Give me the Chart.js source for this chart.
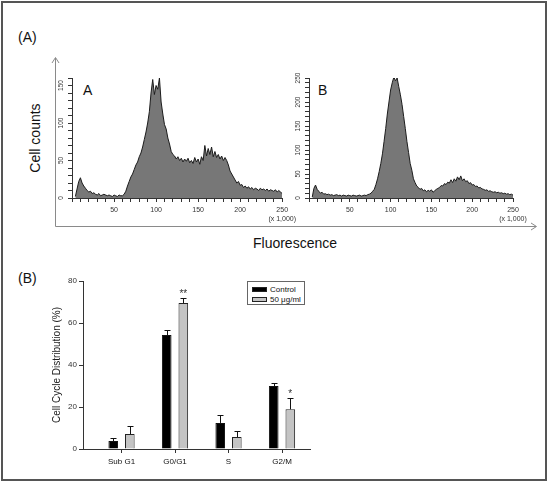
<!DOCTYPE html>
<html>
<head>
<meta charset="utf-8">
<script src="https://cdn.jsdelivr.net/npm/chart.js@4.4.0/dist/chart.umd.min.js"></script>
<style>
body{margin:0;background:#fff;font-family:"Liberation Sans",Arial,sans-serif;}
#page{position:relative;width:550px;height:485px;overflow:hidden;background:#fff;}
#frame{position:absolute;left:1px;top:1px;width:546px;height:480px;border:2px solid #555;box-sizing:border-box;}
canvas{position:absolute;}
.lbl{position:absolute;font-size:14px;line-height:14px;color:#111;white-space:nowrap;}
.rot{transform:translate(-50%,-50%) rotate(-90deg);}
.ctr{transform:translate(-50%,-50%);}
#legend{position:absolute;left:247px;top:281px;width:58px;height:24px;border:1px solid #666;box-sizing:border-box;background:#fff;}
#legend .sw{position:absolute;left:4px;width:15px;height:5px;box-sizing:border-box;border:1px solid #222;}
#legend .lt{position:absolute;left:22px;font-size:8px;line-height:9px;color:#111;white-space:nowrap;}
</style>
</head>
<body>
<div id="page">
  <div id="frame"></div>
  <svg width="550" height="485" style="position:absolute;left:0;top:0">
    <path d="M55.5 226.5 V58 M52 63 L55.5 57.5 L59 63 M55.5 226.5 H536 M531 223 L536.5 226.5 L531 230" stroke="#8a8a8a" fill="none" stroke-width="1"/>
  </svg>
  <div class="lbl" style="left:18px;top:30px">(A)</div>
  <div class="lbl rot" style="left:35px;top:138px">Cell counts</div>
  <div class="lbl ctr" style="left:295px;top:243px">Fluorescence</div>
  <div class="lbl" style="left:83px;top:83px">A</div>
  <div class="lbl" style="left:318px;top:83px">B</div>
  <div class="lbl" style="left:18px;top:271px">(B)</div>
  <canvas id="histA" width="300" height="240" style="left:0;top:0"></canvas>
  <canvas id="histB" width="265" height="240" style="left:280px;top:0"></canvas>
  <canvas id="bars" width="330" height="230" style="left:0;top:250px"></canvas>
  <div id="legend"></div>
</div>
<script>
// fluorescence channels (x 1,000), one bin every 2 units
const fluorBins = [];
for (let ch = 4; ch <= 250; ch += 2) fluorBins.push(ch);

// panel A: untreated cells
const countsA = [
  2, 12, 22, 27, 20, 16, 13, 10, 8, 9,
  6, 7, 5, 4, 6, 3, 4, 5, 4, 3,
  4, 3, 2, 4, 3, 2, 4, 3, 3, 5,
  9, 16, 22, 28, 32, 38, 44, 48, 55, 60,
  68, 78, 88, 100, 115, 140, 158, 138, 150, 145,
  160, 128, 112, 98, 92, 80, 72, 62, 58, 56,
  52, 55, 50, 53, 48, 52, 49, 53, 47, 50,
  46, 54, 48, 52, 45, 55, 50, 70, 56, 66,
  58, 68, 55, 62, 54, 58, 52, 56, 50, 54,
  50, 44, 36, 32, 28, 24, 20, 22, 17, 18,
  14, 16, 13, 15, 12, 14, 11, 13, 12, 10,
  13, 11, 12, 10, 12, 9, 11, 10, 9, 11,
  8, 10, 8, 6
];
// panel B: 50 ug/ml
const countsB = [
  2, 20, 27, 18, 14, 10, 12, 8, 9, 7,
  8, 6, 7, 5, 6, 7, 5, 6, 4, 6,
  5, 4, 6, 5, 4, 6, 5, 4, 5, 6,
  4, 5, 6, 5, 7, 8, 10, 14, 18, 28,
  40, 55, 72, 92, 118, 145, 175, 200, 225, 240,
  252, 244, 250, 232, 215, 195, 170, 145, 118, 95,
  72, 58, 40, 32, 25, 22, 18, 20, 15, 17,
  13, 16, 14, 17, 12, 15, 18, 20, 22, 26,
  25, 30, 28, 33, 31, 38, 32, 40, 35, 44,
  38, 46, 36, 40, 34, 36, 30, 32, 27, 28,
  24, 25, 21, 22, 19, 18, 16, 17, 14, 15,
  13, 12, 13, 11, 12, 10, 11, 9, 10, 8,
  9, 7, 8, 6
];

// panel (B) bar chart
const phases = ["Sub G1", "G0/G1", "S", "G2/M"];
const seriesNames = ["Control", "50 μg/ml"];
const controlPct = [3.8, 54.3, 12.4, 30.0];
const controlErr = [1.6, 2.4, 3.9, 1.6];
const treatedPct = [7.1, 69.5, 5.7, 18.9];
const treatedErr = [3.8, 2.4, 3.0, 5.4];
const sigMarks = ["", "**", "", "*"];

const FONT = '"Liberation Sans", Arial, sans-serif';
Chart.defaults.font.family = FONT;
Chart.defaults.color = "#222";

function makeHist(id, counts, yMax, pad, yWidth){
  return new Chart(document.getElementById(id), {
    type: "line",
    data: { labels: fluorBins, datasets: [{ data: counts, fill: "origin", backgroundColor: "#777777",
      borderColor: "#1c1c1c", borderWidth: 1, pointRadius: 0, tension: 0 }] },
    options: {
      responsive: false, animation: false,
      layout: { padding: pad },
      plugins: { legend: { display: false }, tooltip: { enabled: false } },
      scales: {
        x: { type: "linear", min: 0, max: 250, afterFit: s => { s.height = 30; },
          ticks: { stepSize: 10, maxTicksLimit: 100, autoSkip: false, maxRotation: 0, padding: 4,
            font: { size: 7 }, color: "#333",
            callback: v => v === 250 ? ["250", "(x 1,000)"] : (v % 50 === 0 && v > 0 ? String(v) : "") },
          grid: { drawOnChartArea: false, tickLength: 4, color: "#333" },
          border: { color: "#333" } },
        y: { min: 0, max: yMax, afterFit: s => { s.width = yWidth; },
          ticks: { stepSize: 10, maxTicksLimit: 100, autoSkip: false, minRotation: 90, maxRotation: 90,
            crossAlign: "center", padding: 1, font: { size: 6.5 }, color: "#333",
            callback: v => v % 50 === 0 ? String(v) : "" },
          grid: { drawOnChartArea: false, tickLength: 4, color: "#333" },
          border: { color: "#333" } }
      }
    }
  });
}

makeHist("histA", countsA, 160, { left: 42, right: 17, top: 78, bottom: 12 }, 30);
makeHist("histB", countsB, 250, { left: 4, right: 32, top: 78, bottom: 12 }, 25);

const errorBars = {
  id: "errorBars",
  afterDatasetsDraw(chart){
    const { ctx, scales: { y } } = chart;
    ctx.save();
    ctx.strokeStyle = "#111"; ctx.lineWidth = 1;
    chart.data.datasets.forEach((ds, di) => {
      chart.getDatasetMeta(di).data.forEach((bar, i) => {
        const top = Math.round(y.getPixelForValue(ds.data[i].y + ds.errors[i])) + 0.5;
        const x = Math.round(bar.x) + 0.5;
        ctx.beginPath();
        ctx.moveTo(x, bar.y); ctx.lineTo(x, top);
        ctx.moveTo(x - 3, top); ctx.lineTo(x + 3, top);
        ctx.stroke();
      });
    });
    ctx.fillStyle = "#333"; ctx.font = "10px " + FONT;
    ctx.textAlign = "center"; ctx.textBaseline = "bottom";
    chart.getDatasetMeta(1).data.forEach((bar, i) => {
      if (!sigMarks[i]) return;
      ctx.fillText(sigMarks[i], bar.x, y.getPixelForValue(treatedPct[i] + treatedErr[i]) + 1);
    });
    ctx.restore();
  }
};

const barColors = ["#000000", "#c4c4c4"];
new Chart(document.getElementById("bars"), {
  type: "bar",
  data: { datasets: [
    { label: seriesNames[0], data: phases.map((p, i) => ({ x: i + 1, y: controlPct[i] })), errors: controlErr,
      backgroundColor: barColors[0], borderColor: "#111", borderWidth: 1 },
    { label: seriesNames[1], data: phases.map((p, i) => ({ x: i + 1, y: treatedPct[i] })), errors: treatedErr,
      backgroundColor: barColors[1], borderColor: "#222", borderWidth: 1 }
  ] },
  options: {
    responsive: false, animation: false,
    categoryPercentage: 0.62, barPercentage: 0.58,
    layout: { padding: { left: 51, right: 20, top: 31, bottom: 11 } },
    plugins: { legend: { display: false }, tooltip: { enabled: false } },
    scales: {
      x: { type: "linear", min: 0.28, max: 4.523, offset: false,
        afterBuildTicks: s => { s.ticks = phases.map((p, i) => ({ value: i + 1 })); },
        afterFit: s => { s.height = 20; },
        ticks: { autoSkip: false, maxRotation: 0, padding: 4, font: { size: 8 }, color: "#111",
          callback: v => phases[v - 1] || "" },
        grid: { offset: false, drawOnChartArea: false, tickLength: 4, color: "#333" },
        border: { color: "#333" } },
      y: { min: 0, max: 80, afterFit: s => { s.width = 32; },
        ticks: { stepSize: 20, padding: 2, font: { size: 8 }, color: "#333" },
        grid: { drawOnChartArea: false, tickLength: 4, color: "#333" },
        border: { color: "#333" },
        title: { display: true, text: "Cell Cycle Distribution (%)", padding: 0, font: { size: 10 }, color: "#222" } }
    }
  },
  plugins: [errorBars]
});

// legend box, built from the series names
const lg = document.getElementById("legend");
seriesNames.forEach((name, i) => {
  lg.insertAdjacentHTML("beforeend",
    `<span class="sw" style="top:${5 + i * 10}px;background:${barColors[i]}"></span>` +
    `<span class="lt" style="top:${3 + i * 10}px">${name}</span>`);
});
</script>
</body>
</html>
